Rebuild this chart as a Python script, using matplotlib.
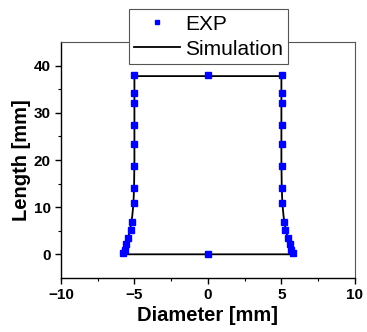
import matplotlib
matplotlib.use("Agg")
import matplotlib.pyplot as plt
import numpy as np

plt.rcParams["font.family"] = ["Liberation Sans", "DejaVu Sans"]

# measured profile (right half), mirrored for the left side
exp_len = [38.0, 34.3, 32.0, 27.5, 23.3, 18.7, 14.1, 10.9, 6.8, 5.1, 3.4, 2.2, 0.9, 0.3]
exp_rad = [5.05, 5.05, 5.05, 5.05, 5.05, 5.05, 5.05, 5.05, 5.15, 5.26, 5.42, 5.58, 5.67, 5.8]
exp_mid_x = [0.0, 0.0]
exp_mid_y = [38.0, 0.0]

# simulated half-profile, top to bottom
sim_len = [37.8, 35.0, 30.0, 25.0, 20.0, 15.0, 12.0, 10.0, 8.0, 6.0, 5.0, 4.0, 3.0, 2.0, 1.0, 0.0]
sim_rad = [5.0, 5.0, 5.0, 5.0, 5.0, 5.02, 5.05, 5.09, 5.15, 5.25, 5.31, 5.39, 5.48, 5.58, 5.7, 5.83]

exp_x = np.concatenate([exp_rad, -np.array(exp_rad), exp_mid_x])
exp_y = np.concatenate([exp_len, exp_len, exp_mid_y])

# closed contour: right side down, bottom edge, left side up, top edge
sim_x = np.concatenate([sim_rad, -np.array(sim_rad[::-1]), [sim_rad[0]]])
sim_y = np.concatenate([sim_len, sim_len[::-1], [sim_len[0]]])

fig = plt.figure(figsize=(3.67, 3.32), dpi=100)
ax = fig.add_axes([0.166, 0.163, 0.801, 0.71])

ax.plot(exp_x, exp_y, "s", color="#0000ff", ms=4, mec="#0000ff", label="EXP", zorder=3)
ax.plot(sim_x, sim_y, "-", color="black", lw=1.3, label="Simulation", zorder=2)

ax.set_xlim(-10, 10)
ax.set_ylim(-5, 45)
ax.set_xticks([-10, -5, 0, 5, 10])
ax.set_yticks([0, 10, 20, 30, 40])
ax.set_xticks(np.arange(-7.5, 10, 5), minor=True)
ax.set_yticks(np.arange(5, 45, 10), minor=True)
ax.tick_params(which="major", direction="out", length=4, width=1, labelsize=11, top=False, right=False)
ax.tick_params(which="minor", direction="out", length=2.5, width=0.8, top=False, right=False)
for lab in ax.get_xticklabels() + ax.get_yticklabels():
    lab.set_fontweight("bold")

for side in ["left", "bottom"]:
    ax.spines[side].set_linewidth(1.0)
    ax.spines[side].set_color("black")
for side in ["top", "right"]:
    ax.spines[side].set_linewidth(0.8)
    ax.spines[side].set_color("#555555")

ax.set_xlabel("Diameter [mm]", fontsize=14.5, fontweight="bold", labelpad=3)
ax.set_ylabel("Length [mm]", fontsize=14.5, fontweight="bold", labelpad=2)

leg = fig.legend(loc="upper center", bbox_to_anchor=(0.568, 0.972), fontsize=15,
                 frameon=True, fancybox=False, edgecolor="#555555", framealpha=1,
                 handlelength=2.2, handletextpad=0.25, borderpad=0.25, labelspacing=0.3,
                 borderaxespad=0, markerscale=0.8)
leg.get_frame().set_linewidth(0.8)

fig.savefig("out.png", dpi=100)
